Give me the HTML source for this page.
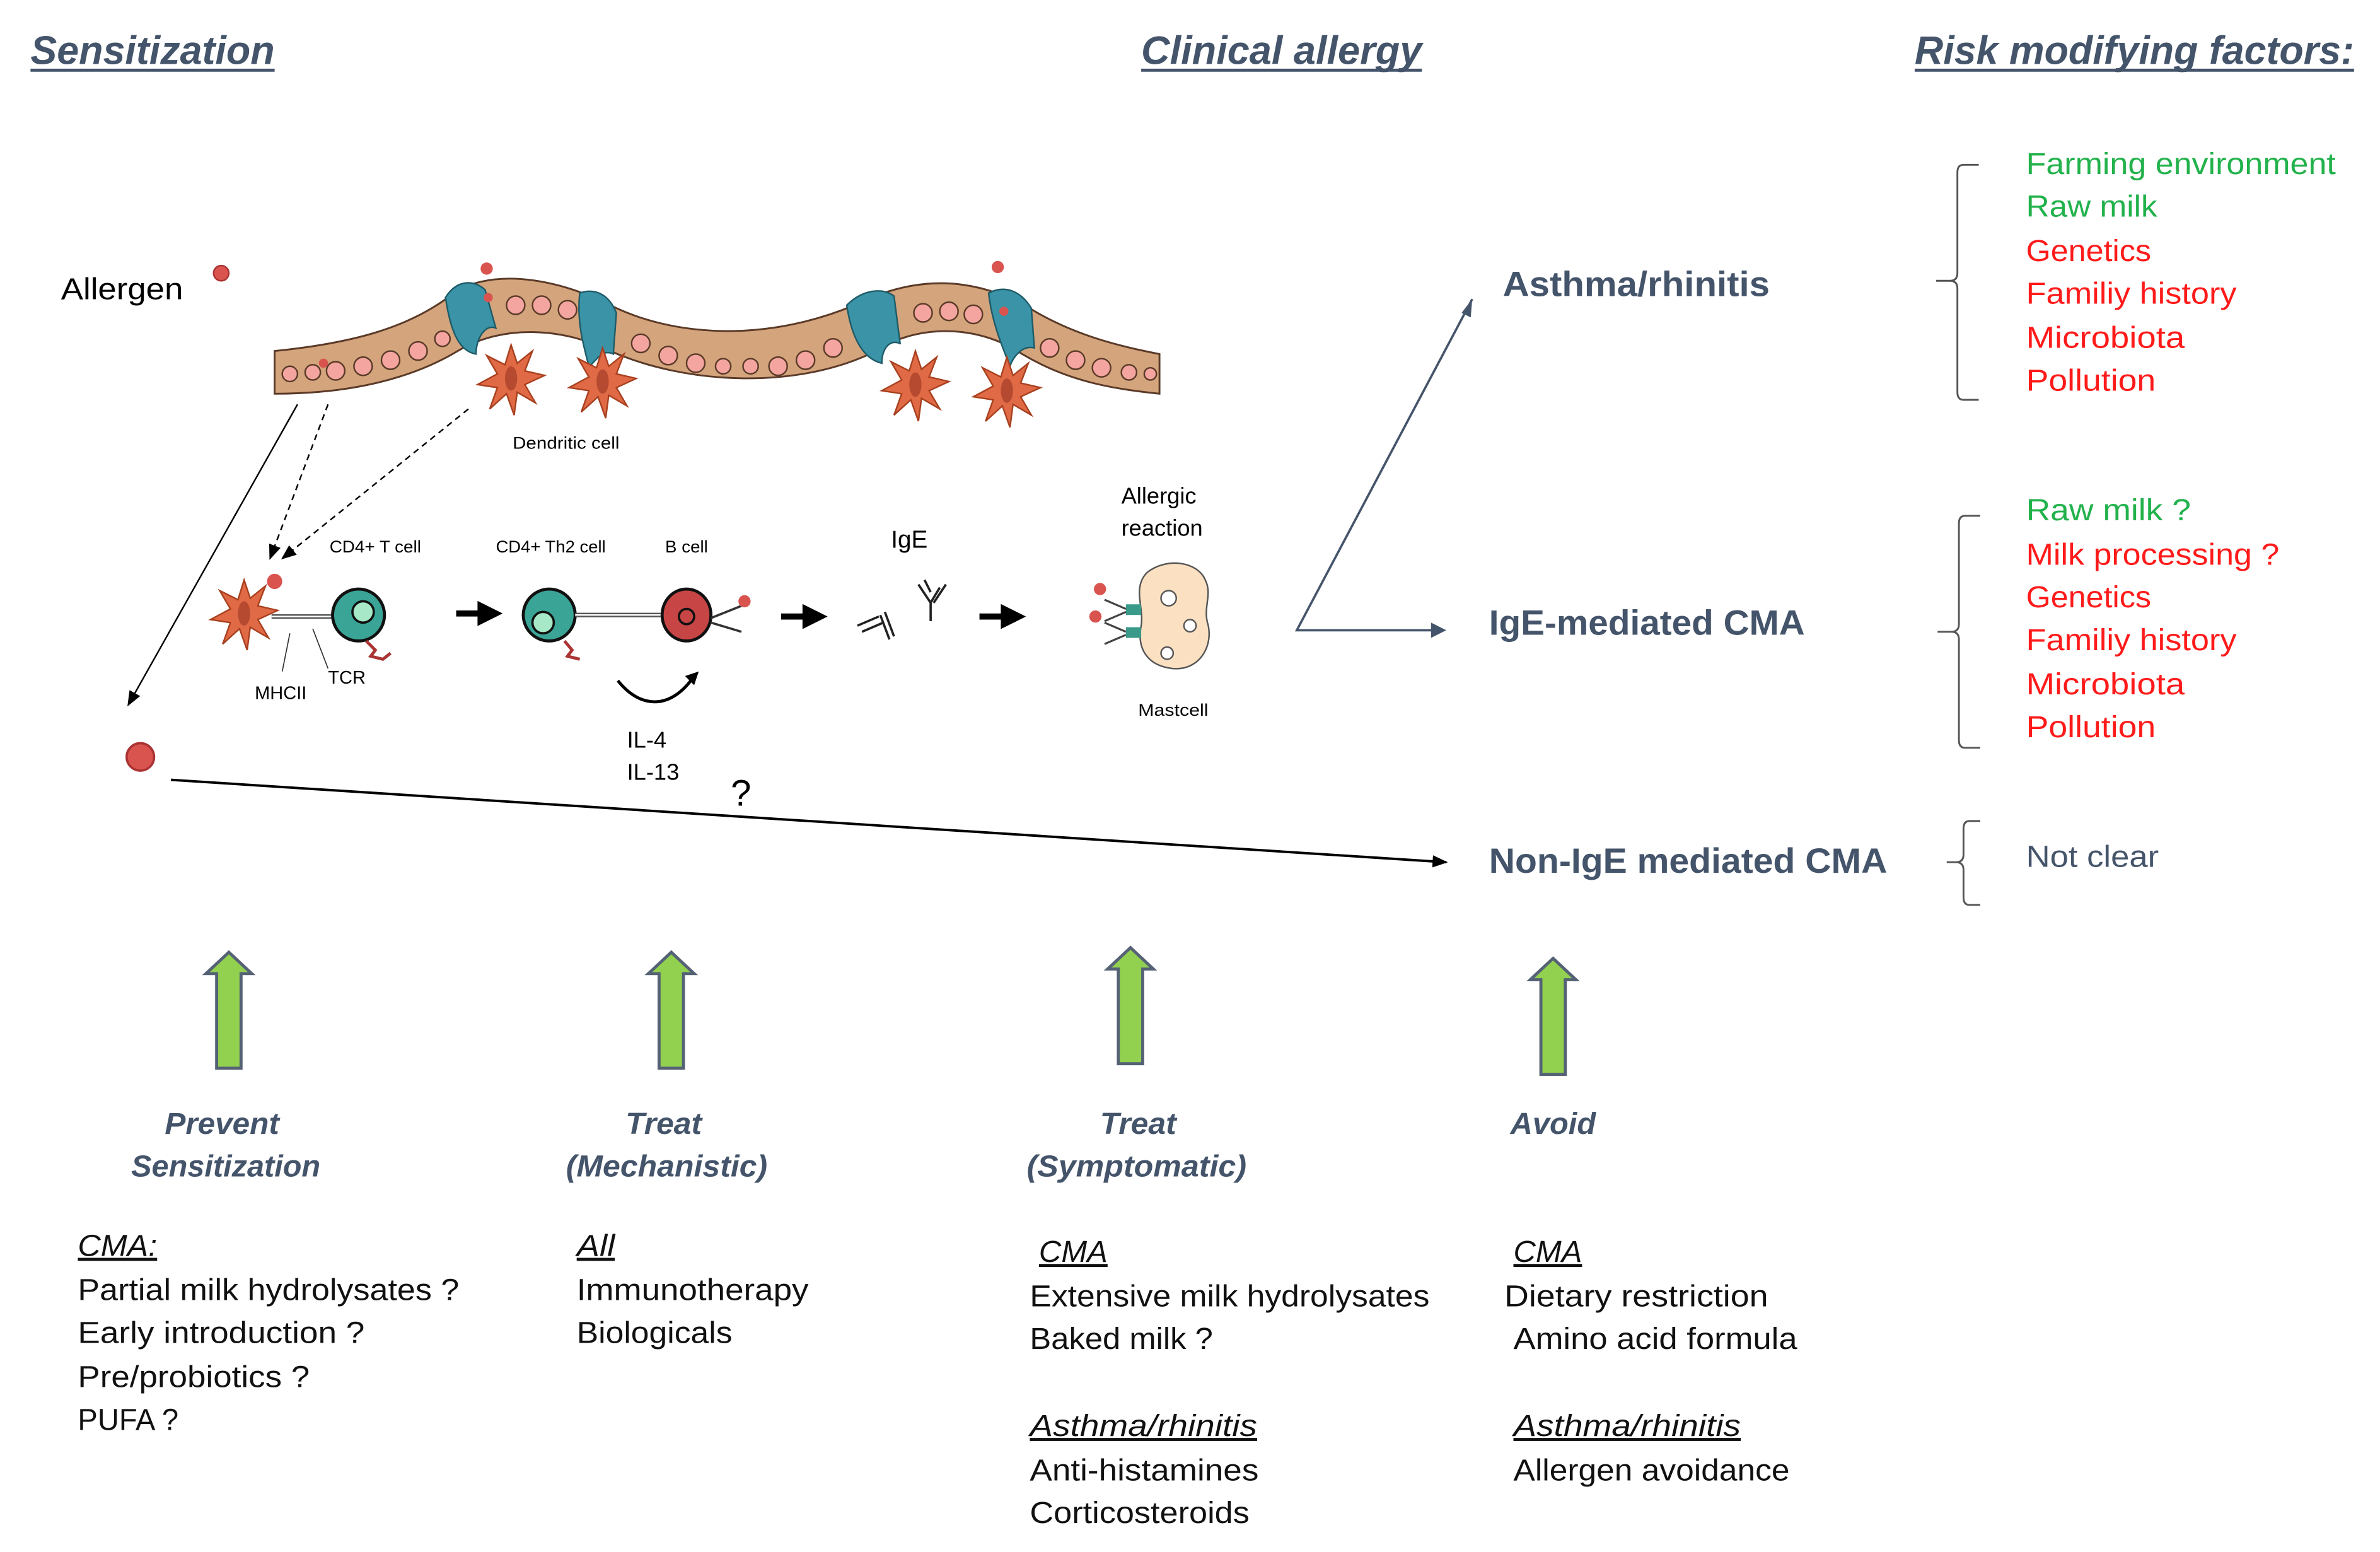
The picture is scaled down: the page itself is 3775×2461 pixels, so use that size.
<!DOCTYPE html>
<html><head><meta charset="utf-8">
<style>html,body{margin:0;padding:0;background:#fff}svg{display:block}
text{font-family:"Liberation Sans",sans-serif}</style></head>
<body>
<svg width="3775" height="2461" viewBox="0 0 1560 1017" preserveAspectRatio="none" xmlns="http://www.w3.org/2000/svg">
<defs>
<marker id="ab" markerWidth="10" markerHeight="10" refX="9" refY="5" orient="auto" markerUnits="userSpaceOnUse"><path d="M0,1 L10,5 L0,9 z" fill="#000"/></marker>
<marker id="ag" markerWidth="10" markerHeight="10" refX="9" refY="5" orient="auto" markerUnits="userSpaceOnUse"><path d="M0,1 L10,5 L0,9 z" fill="#44546a"/></marker>
<g id="garrow"><path d="M-8,0 L-8,-62 L-15,-62 L0,-76 L15,-62 L8,-62 L8,0 z" fill="#92d050" stroke="#556275" stroke-width="2"/></g>
<g id="dc"><path d="M0,-22 L4,-10 L14,-18 L9,-5 L22,-2 L9,4 L16,16 L4,9 L2,24 L-3,10 L-14,20 L-9,6 L-22,4 L-9,-3 L-16,-15 L-4,-9 z" fill="#e06a45" stroke="#a8401f" stroke-width="1"/><ellipse cx="0" cy="0" rx="4" ry="8" fill="#b54a30"/></g>
</defs>

<!-- headings -->
<g font-weight="bold" font-style="italic" fill="#44546a" font-size="26">
<text x="20" y="42" textLength="160" lengthAdjust="spacingAndGlyphs">Sensitization</text>
<text x="748" y="42" textLength="184" lengthAdjust="spacingAndGlyphs">Clinical allergy</text>
<text x="1255" y="42" textLength="288" lengthAdjust="spacingAndGlyphs">Risk modifying factors:</text>
</g>
<g stroke="#44546a" stroke-width="2">
<line x1="20" y1="46" x2="180" y2="46"/><line x1="748" y1="46" x2="932" y2="46"/><line x1="1255" y1="46" x2="1543" y2="46"/>
</g>

<text x="40" y="196" font-size="20" textLength="80" lengthAdjust="spacingAndGlyphs">Allergen</text>
<circle cx="145" cy="179" r="5" fill="#d9534f" stroke="#a33" stroke-width="1"/>

<!-- epithelium -->
<path d="M180,230 C230,225 270,215 300,190 C330,175 370,185 400,200 C440,220 500,225 560,200 C600,180 640,180 680,205 C710,222 740,228 760,232 L760,258 C730,255 700,250 670,232 C640,212 600,212 570,232 C520,255 450,252 400,230 C370,215 330,212 300,230 C270,248 230,258 180,258 z" fill="#d4a47c" stroke="#5a3a28" stroke-width="1.2"/>
<g fill="#f4a5a0" stroke="#5a3a28" stroke-width="1">
<circle cx="190" cy="245" r="5"/><circle cx="205" cy="244" r="5"/><circle cx="220" cy="243" r="6"/><circle cx="238" cy="240" r="6"/><circle cx="256" cy="236" r="6"/><circle cx="274" cy="230" r="6"/><circle cx="290" cy="222" r="5"/>
<circle cx="338" cy="200" r="6"/><circle cx="355" cy="200" r="6"/><circle cx="372" cy="203" r="6"/>
<circle cx="420" cy="225" r="6"/><circle cx="438" cy="233" r="6"/><circle cx="456" cy="238" r="6"/><circle cx="474" cy="240" r="5"/><circle cx="492" cy="240" r="5"/><circle cx="510" cy="240" r="6"/><circle cx="528" cy="236" r="6"/><circle cx="546" cy="228" r="6"/>
<circle cx="605" cy="205" r="6"/><circle cx="622" cy="204" r="6"/><circle cx="638" cy="206" r="6"/>
<circle cx="688" cy="228" r="6"/><circle cx="705" cy="236" r="6"/><circle cx="722" cy="241" r="6"/><circle cx="740" cy="244" r="5"/><circle cx="754" cy="245" r="4"/>
</g>
<g fill="#3a93a6" stroke="#1e5b68" stroke-width="1">
<path d="M292,195 C300,182 312,184 318,190 L325,215 C318,212 312,222 312,232 C300,230 295,215 292,195 z"/>
<path d="M380,192 C392,188 400,195 404,205 L402,232 C394,228 390,238 386,240 C382,225 378,210 380,192 z"/>
<path d="M555,200 C565,190 578,188 586,194 L590,225 C582,222 578,230 578,238 C565,235 558,220 555,200 z"/>
<path d="M648,192 C660,186 670,192 676,202 L678,228 C670,226 664,234 662,240 C656,225 650,210 648,192 z"/>
</g>
<circle cx="319" cy="176" r="4" fill="#d9534f"/><circle cx="654" cy="175" r="4" fill="#d9534f"/>
<circle cx="212" cy="238" r="3" fill="#d9534f"/><circle cx="320" cy="195" r="3" fill="#d9534f"/><circle cx="658" cy="204" r="3" fill="#d9534f"/>
<use href="#dc" x="335" y="248"/><use href="#dc" x="395" y="250"/><use href="#dc" x="600" y="252"/><use href="#dc" x="660" y="256"/>
<text x="336" y="294" font-size="11" textLength="70" lengthAdjust="spacingAndGlyphs">Dendritic cell</text>

<!-- connectors -->
<line x1="195" y1="265" x2="84" y2="462" stroke="#000" stroke-width="1" marker-end="url(#ab)"/>
<line x1="215" y1="265" x2="177" y2="366" stroke="#000" stroke-width="1" stroke-dasharray="4,3" marker-end="url(#ab)"/>
<line x1="307" y1="268" x2="185" y2="366" stroke="#000" stroke-width="1" stroke-dasharray="4,3" marker-end="url(#ab)"/>
<circle cx="92" cy="496" r="9" fill="#d9534f" stroke="#a33" stroke-width="1.5"/>
<line x1="112" y1="511" x2="948" y2="565" stroke="#000" stroke-width="1.6" marker-end="url(#ab)"/>
<polyline points="965,196 850,413 945,413" fill="none" stroke="#44546a" stroke-width="1.5"/>
<path d="M965,196 L958,205 L964,208 z" fill="#44546a"/>
<path d="M948,413 L938,408 L938,418 z" fill="#44546a"/>

<!-- cell row -->
<g font-size="11">
<text x="216" y="362" textLength="60" lengthAdjust="spacingAndGlyphs">CD4+ T cell</text>
<text x="325" y="362" textLength="72" lengthAdjust="spacingAndGlyphs">CD4+ Th2 cell</text>
<text x="436" y="362" textLength="28" lengthAdjust="spacingAndGlyphs">B cell</text>
<text x="215" y="448" font-size="12">TCR</text>
<text x="167" y="458" font-size="12">MHCII</text>
<text x="746" y="469" textLength="46" lengthAdjust="spacingAndGlyphs">Mastcell</text>
</g>
<text x="584" y="359" font-size="16">IgE</text>
<text x="735" y="330" font-size="15">Allergic</text>
<text x="735" y="351" font-size="15">reaction</text>
<text x="411" y="490" font-size="15">IL-4</text>
<text x="411" y="511" font-size="15">IL-13</text>
<text x="479" y="528" font-size="24">?</text>

<use href="#dc" x="160" y="402"/>
<circle cx="180" cy="381" r="5" fill="#d9534f"/>
<line x1="178" y1="404" x2="218" y2="404" stroke="#555" stroke-width="3"/>
<line x1="178" y1="404" x2="218" y2="404" stroke="#fff" stroke-width="1"/>
<line x1="190" y1="415" x2="185" y2="440" stroke="#333" stroke-width="0.7"/>
<line x1="205" y1="412" x2="215" y2="438" stroke="#333" stroke-width="0.7"/>
<circle cx="235" cy="403" r="17" fill="#3aa597" stroke="#111" stroke-width="2"/><circle cx="238" cy="401" r="7" fill="#a6e8c8" stroke="#111" stroke-width="1.5"/>
<path d="M240,420 l6,6 l-3,4 l8,2 l5,-4" fill="none" stroke="#a33" stroke-width="2"/>
<path d="M299,402 h16 v-5 l10,5 l-10,5 v-5" fill="#000" stroke="#000" stroke-width="4"/>
<circle cx="360" cy="403" r="17" fill="#3aa597" stroke="#111" stroke-width="2"/><circle cx="356" cy="408" r="7" fill="#a6e8c8" stroke="#111" stroke-width="1.5"/>
<line x1="377" y1="403" x2="433" y2="403" stroke="#555" stroke-width="3"/><line x1="377" y1="403" x2="433" y2="403" stroke="#fff" stroke-width="1"/>
<path d="M370,420 l5,6 l-3,4 l8,2" fill="none" stroke="#a33" stroke-width="2"/>
<ellipse cx="450" cy="403" rx="16" ry="17" fill="#c84545" stroke="#111" stroke-width="2"/><circle cx="450" cy="404" r="5" fill="none" stroke="#111" stroke-width="1.5"/>
<path d="M466,405 l20,-8 M466,408 l20,6" stroke="#333" stroke-width="1.5"/>
<circle cx="488" cy="394" r="4" fill="#d9534f"/>
<path d="M405,446 C420,465 440,465 455,443" fill="none" stroke="#000" stroke-width="2"/>
<path d="M458,440 l-9,3 l6,6 z" fill="#000"/>
<path d="M512,404 h16 v-5 l10,5 l-10,5 v-5" fill="#000" stroke="#000" stroke-width="4"/>
<path d="M562,410 l14,-6 M565,414 l14,-6 M577,403 l6,16 M580,401 l6,16" stroke="#222" stroke-width="1.5"/>
<path d="M602,383 l8,12 l0,12 M616,385 l-6,10 M606,380 l4,8 M620,383 l-8,12" stroke="#222" stroke-width="1.5" fill="none"/>
<path d="M642,404 h16 v-5 l10,5 l-10,5 v-5" fill="#000" stroke="#000" stroke-width="4"/>
<path d="M752,375 C765,365 785,368 790,380 C795,390 788,398 792,410 C795,425 785,440 768,438 C752,436 745,425 748,410 C750,398 742,385 752,375 z" fill="#fbe1c2" stroke="#555" stroke-width="1"/>
<circle cx="766" cy="392" r="5" fill="#fff" stroke="#555"/><circle cx="780" cy="410" r="4" fill="#fff" stroke="#555"/><circle cx="765" cy="428" r="4" fill="#fff" stroke="#555"/>
<rect x="738" y="396" width="10" height="7" fill="#3a9a8a"/><rect x="738" y="411" width="10" height="7" fill="#3a9a8a"/>
<path d="M738,399 l-14,-6 M738,414 l-14,-6 M738,401 l-14,6 M738,416 l-14,6" stroke="#444" stroke-width="1.3"/>
<circle cx="721" cy="386" r="4" fill="#d9534f"/><circle cx="718" cy="404" r="4" fill="#d9534f"/>

<!-- outcomes -->
<g font-weight="bold" fill="#44546a" font-size="23">
<text x="985" y="194" textLength="175" lengthAdjust="spacingAndGlyphs">Asthma/rhinitis</text>
<text x="976" y="416" textLength="207" lengthAdjust="spacingAndGlyphs">IgE-mediated CMA</text>
<text x="976" y="572" textLength="261" lengthAdjust="spacingAndGlyphs">Non-IgE mediated CMA</text>
</g>

<!-- brackets -->
<g fill="none" stroke="#555" stroke-width="1.2">
<path d="M1297,108 h-10 q-4,0 -4,5 v66 q0,5 -5,5 h-9 M1278,184 q5,0 5,5 v68 q0,5 4,5 h10"/>
<path d="M1298,338 h-10 q-4,0 -4,5 v66 q0,5 -5,5 h-9 M1279,414 q5,0 5,5 v66 q0,5 4,5 h10"/>
<path d="M1298,538 h-7 q-4,0 -4,5 v17 q0,5 -5,5 h-6 M1282,565 q5,0 5,5 v18 q0,5 4,5 h7"/>
</g>
<g font-size="20">
<text x="1328" y="114" fill="#22b24c" textLength="203" lengthAdjust="spacingAndGlyphs">Farming environment</text>
<text x="1328" y="142" fill="#22b24c" textLength="86" lengthAdjust="spacingAndGlyphs">Raw milk</text>
<text x="1328" y="171" fill="#ff1a1a" textLength="82" lengthAdjust="spacingAndGlyphs">Genetics</text>
<text x="1328" y="199" fill="#ff1a1a" textLength="138" lengthAdjust="spacingAndGlyphs">Familiy history</text>
<text x="1328" y="228" fill="#ff1a1a" textLength="104" lengthAdjust="spacingAndGlyphs">Microbiota</text>
<text x="1328" y="256" fill="#ff1a1a" textLength="85" lengthAdjust="spacingAndGlyphs">Pollution</text>
<text x="1328" y="341" fill="#22b24c" textLength="108" lengthAdjust="spacingAndGlyphs">Raw milk  ?</text>
<text x="1328" y="370" fill="#ff1a1a" textLength="166" lengthAdjust="spacingAndGlyphs">Milk processing  ?</text>
<text x="1328" y="398" fill="#ff1a1a" textLength="82" lengthAdjust="spacingAndGlyphs">Genetics</text>
<text x="1328" y="426" fill="#ff1a1a" textLength="138" lengthAdjust="spacingAndGlyphs">Familiy history</text>
<text x="1328" y="455" fill="#ff1a1a" textLength="104" lengthAdjust="spacingAndGlyphs">Microbiota</text>
<text x="1328" y="483" fill="#ff1a1a" textLength="85" lengthAdjust="spacingAndGlyphs">Pollution</text>
<text x="1328" y="568" fill="#44546a" textLength="87" lengthAdjust="spacingAndGlyphs">Not clear</text>
</g>

<!-- green arrows -->
<use href="#garrow" x="150" y="700"/>
<use href="#garrow" x="440" y="700"/>
<use href="#garrow" x="741" y="697"/>
<use href="#garrow" x="1018" y="704"/>

<g font-weight="bold" font-style="italic" fill="#44546a" font-size="20">
<text x="108" y="743" textLength="75" lengthAdjust="spacingAndGlyphs">Prevent</text>
<text x="86" y="771" textLength="124" lengthAdjust="spacingAndGlyphs">Sensitization</text>
<text x="410" y="743" textLength="50" lengthAdjust="spacingAndGlyphs">Treat</text>
<text x="371" y="771" textLength="132" lengthAdjust="spacingAndGlyphs">(Mechanistic)</text>
<text x="721" y="743" textLength="50" lengthAdjust="spacingAndGlyphs">Treat</text>
<text x="673" y="771" textLength="144" lengthAdjust="spacingAndGlyphs">(Symptomatic)</text>
<text x="990" y="743" textLength="56" lengthAdjust="spacingAndGlyphs">Avoid</text>
</g>

<g font-size="20" fill="#111">
<text x="51" y="823" font-style="italic" textLength="52" lengthAdjust="spacingAndGlyphs" text-decoration="underline">CMA:</text>
<text x="51" y="852" textLength="250" lengthAdjust="spacingAndGlyphs">Partial milk hydrolysates ?</text>
<text x="51" y="880" textLength="188" lengthAdjust="spacingAndGlyphs">Early introduction ?</text>
<text x="51" y="909" textLength="152" lengthAdjust="spacingAndGlyphs">Pre/probiotics ?</text>
<text x="51" y="937" textLength="66" lengthAdjust="spacingAndGlyphs">PUFA ?</text>
<text x="378" y="823" font-style="italic" text-decoration="underline" textLength="25" lengthAdjust="spacingAndGlyphs">All</text>
<text x="378" y="852" textLength="152" lengthAdjust="spacingAndGlyphs">Immunotherapy</text>
<text x="378" y="880" textLength="102" lengthAdjust="spacingAndGlyphs">Biologicals</text>
<text x="681" y="827" font-style="italic" text-decoration="underline" textLength="45" lengthAdjust="spacingAndGlyphs">CMA</text>
<text x="675" y="856" textLength="262" lengthAdjust="spacingAndGlyphs">Extensive milk hydrolysates</text>
<text x="675" y="884" textLength="120" lengthAdjust="spacingAndGlyphs">Baked milk ?</text>
<text x="675" y="941" font-style="italic" text-decoration="underline" textLength="149" lengthAdjust="spacingAndGlyphs">Asthma/rhinitis</text>
<text x="675" y="970" textLength="150" lengthAdjust="spacingAndGlyphs">Anti-histamines</text>
<text x="675" y="998" textLength="144" lengthAdjust="spacingAndGlyphs">Corticosteroids</text>
<text x="992" y="827" font-style="italic" text-decoration="underline" textLength="45" lengthAdjust="spacingAndGlyphs">CMA</text>
<text x="986" y="856" textLength="173" lengthAdjust="spacingAndGlyphs">Dietary restriction</text>
<text x="992" y="884" textLength="186" lengthAdjust="spacingAndGlyphs">Amino acid formula</text>
<text x="992" y="941" font-style="italic" text-decoration="underline" textLength="149" lengthAdjust="spacingAndGlyphs">Asthma/rhinitis</text>
<text x="992" y="970" textLength="181" lengthAdjust="spacingAndGlyphs">Allergen avoidance</text>
</g>
</svg>
</body></html>
